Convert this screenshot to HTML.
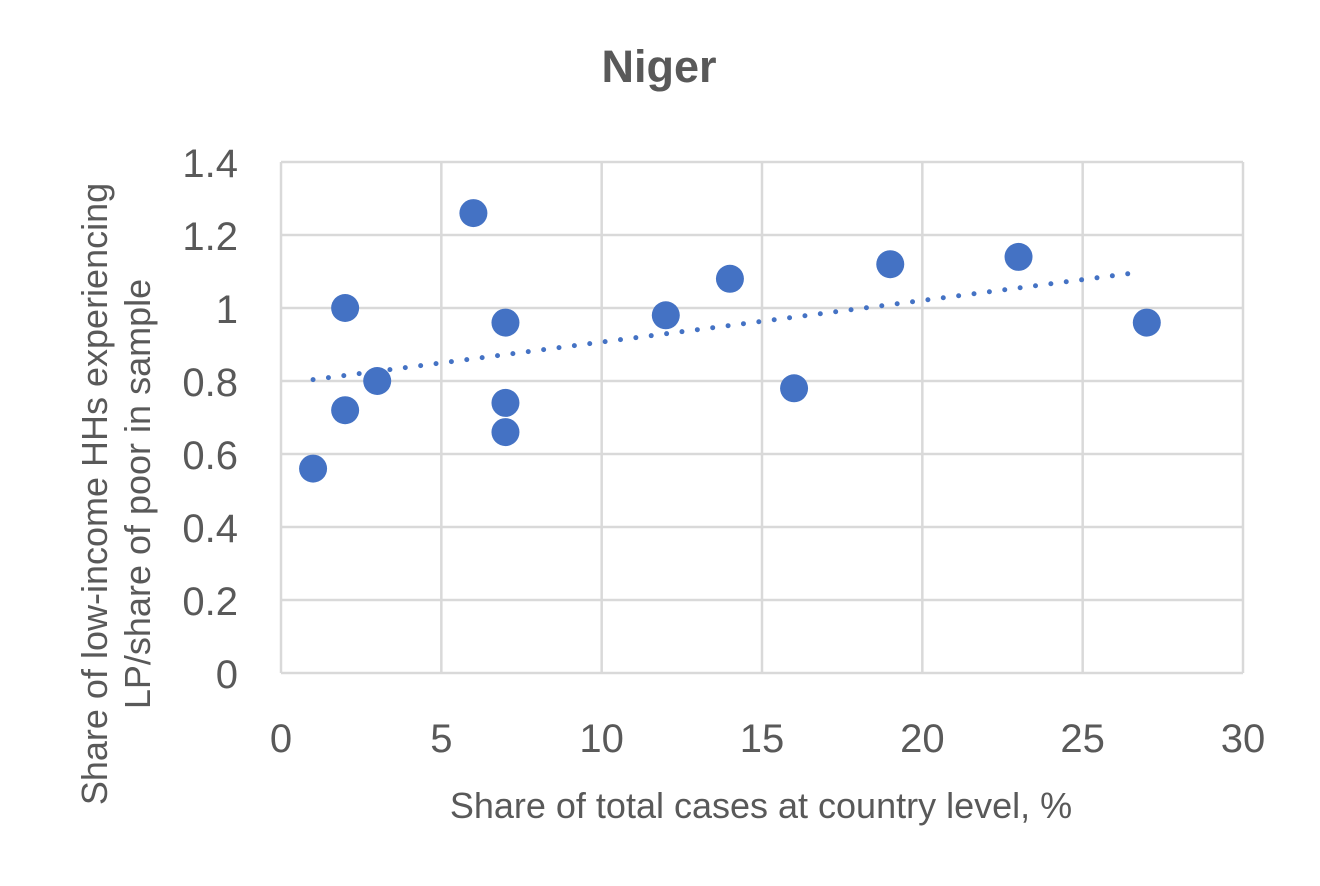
<!DOCTYPE html>
<html><head><meta charset="utf-8"><style>
body{margin:0;background:#fff;}
svg{display:block;font-family:"Liberation Sans",sans-serif;}
</style></head><body>
<svg id="chart" width="1320" height="886" viewBox="0 0 1320 886">
<rect width="1320" height="886" fill="#fff"/>
<text x="659" y="82" text-anchor="middle" font-size="45" font-weight="bold" fill="#595959">Niger</text>
<g id="grid"></g>
<g id="ticks"></g>
<g id="trend"></g>
<g id="points"></g>
<text x="761" y="818" text-anchor="middle" font-size="36" fill="#595959">Share of total cases at country level, %</text>
<g transform="translate(0,494) rotate(-90)">
<text x="0" y="107" text-anchor="middle" font-size="36" fill="#595959">Share of low-income HHs experiencing</text>
<text x="0" y="150" text-anchor="middle" font-size="36" fill="#595959">LP/share of poor in sample</text>
</g>
</svg>
<script>
const xValues=[1,2,2,3,6,7,7,7,12,14,16,19,23,27];
const yValues=[0.56,1.0,0.72,0.8,1.26,0.96,0.74,0.66,0.98,1.08,0.78,1.12,1.14,0.96];
const xTicks=[0,5,10,15,20,25,30];
const yTicks=[0,0.2,0.4,0.6,0.8,1,1.2,1.4];
const NS="http://www.w3.org/2000/svg";
const X0=281,X1=1243,Y0=673,Y1=162;
const xs=v=>X0+(v-0)/30*(X1-X0);
const ys=v=>Y0-(v-0)/1.4*(Y0-Y1);
function mk(tag,attrs,parent){const e=document.createElementNS(NS,tag);for(const k in attrs)e.setAttribute(k,attrs[k]);parent.appendChild(e);return e;}
const grid=document.getElementById('grid'),ticks=document.getElementById('ticks');
xTicks.forEach(t=>{
  const l=mk('line',{x1:xs(t),x2:xs(t),y1:Y1,y2:Y0,stroke:'#d9d9d9','stroke-width':2.5},grid);
  
  
  const tx=mk('text',{x:xs(t),y:Y0+79,'text-anchor':'middle','font-size':40,fill:'#595959'},ticks);
  tx.textContent=t;
  
  
});
yTicks.forEach(t=>{
  const l=mk('line',{x1:X0,x2:X1,y1:ys(t),y2:ys(t),stroke:'#d9d9d9','stroke-width':2.5},grid);
  
  
  const tx=mk('text',{x:X0-43,y:ys(t)+15,'text-anchor':'end','font-size':40,fill:'#595959'},ticks);
  tx.textContent=t;
  
  
});
const n=xValues.length;
const mx=xValues.reduce((a,b)=>a+b,0)/n,my=yValues.reduce((a,b)=>a+b,0)/n;
let sxy=0,sxx=0;for(let i=0;i<n;i++){sxy+=(xValues[i]-mx)*(yValues[i]-my);sxx+=(xValues[i]-mx)**2;}
const slope=sxy/sxx,icpt=my-slope*mx;
const xa=Math.min(...xValues),xb=Math.max(...xValues)-0.3;
const tl=mk('line',{x1:xs(xa),y1:ys(icpt+slope*xa),x2:xs(xb),y2:ys(icpt+slope*xb),stroke:'#4472C4','stroke-width':5,'stroke-linecap':'round','stroke-dasharray':'0 15.5'},document.getElementById('trend'));


const pts=document.getElementById('points');
for(let i=0;i<n;i++){
  const c=mk('circle',{cx:xs(xValues[i]),cy:ys(yValues[i]),r:14,fill:'#4472C4'},pts);
  
  
}
</script>
</body></html>
